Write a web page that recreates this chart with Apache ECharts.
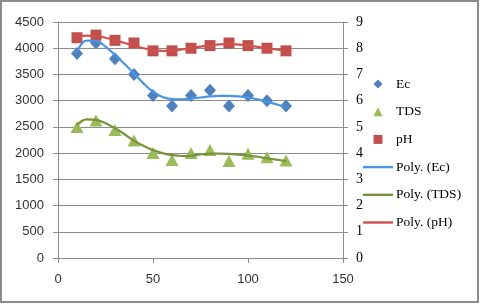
<!DOCTYPE html>
<html><head><meta charset="utf-8">
<script src="https://cdn.jsdelivr.net/npm/echarts@6/dist/echarts.min.js"></script>
<style>html,body{margin:0;padding:0;background:#fff}#c{width:480px;height:306px}</style>
</head><body><div id="c"></div>
<script>
const xVals = [10,20,30,40,50,60,70,80,90,100,110,120];
const ecVals = [3900,4100,3800,3500,3100,2900,3100,3200,2900,3100,3000,2900];
const tdsVals = [2500,2620,2440,2240,2000,1870,2000,2060,1850,1990,1920,1860];
const phVals = [8.4,8.5,8.3,8.2,7.9,7.9,8.0,8.1,8.2,8.1,8.0,7.9];
const trendX = [10,15,20,25,30,35,40,45,50,55,60,65,70,75,80,85,90,95,100,105,110,115,120];
const ecTrend = [3930,4145,4140,4030,3870,3700,3520,3330,3170,3070,3030,3025,3040,3060,3080,3090,3090,3080,3060,3025,2980,2930,2880];
const tdsTrend = [2530,2645,2635,2570,2476,2360,2234,2140,2057,2000,1962,1945,1950,1975,1990,1992,1985,1970,1955,1930,1900,1875,1848];
const phTrend = [8.43,8.48,8.46,8.40,8.31,8.20,8.10,8.00,7.93,7.90,7.91,7.95,8.00,8.06,8.11,8.15,8.16,8.14,8.10,8.05,8.00,7.95,7.90];
const leftTicks = [0,4500,500];
const rightTicks = [0,9,1];
const xTicks = [0,150,50];

const pair = (xs, ys) => xs.map((x,i)=>[x, ys[i]]);
const gridGray = '#8c8c8c';
const lineIcon = 'path://M0,0H30V2.4H0Z';
const diamondIcon = 'path://M5,0L10,5L5,10L0,5Z';
const triIcon = 'path://M5,0L10,10L0,10Z';
const rectIcon = 'path://M0,0H10V10H0Z';
const chart = echarts.init(document.getElementById('c'));
chart.setOption({
  animation:false,
  backgroundColor:'#fff',
  graphic:[{type:'rect',shape:{x:1,y:1,width:477,height:301},style:{fill:'none',stroke:'#8c8c8c',lineWidth:2},z:-1}],
  grid:{left:58,right:137,top:22,bottom:48},
  legend:{
    orient:'vertical', left:358, top:71, itemWidth:30, itemHeight:9, itemGap:11.7,
    symbolKeepAspect:true,
    textStyle:{fontFamily:'Liberation Serif',fontSize:13.5,color:'#000',lineHeight:16,padding:[0,0,0,-2]},
    data:[
      {name:'Ec',icon:diamondIcon},{name:'TDS',icon:triIcon},{name:'pH',icon:rectIcon},
      {name:'Poly. (Ec)',icon:lineIcon},{name:'Poly. (TDS)',icon:lineIcon},{name:'Poly. (pH)',icon:lineIcon}
    ]
  },
  xAxis:{type:'value',min:xTicks[0],max:xTicks[1],interval:xTicks[2],
    axisLine:{show:true,lineStyle:{color:gridGray}},
    axisTick:{show:true,length:5,lineStyle:{color:gridGray}},
    splitLine:{show:false},
    axisLabel:{fontFamily:'Liberation Sans',fontSize:13,color:'#333',margin:15}},
  yAxis:[
    {type:'value',min:leftTicks[0],max:leftTicks[1],interval:leftTicks[2],position:'left',
      axisLine:{show:true,lineStyle:{color:gridGray}},
      axisTick:{show:true,length:5,lineStyle:{color:gridGray}},
      splitLine:{show:true,lineStyle:{color:gridGray,width:1}},
      axisLabel:{fontFamily:'Liberation Sans',fontSize:13,color:'#333',margin:14,formatter:v=>String(v)}},
    {type:'value',min:rightTicks[0],max:rightTicks[1],interval:rightTicks[2],position:'right',
      axisLine:{show:true,lineStyle:{color:gridGray}},
      axisTick:{show:true,length:5,lineStyle:{color:gridGray}},
      splitLine:{show:false},
      axisLabel:{fontFamily:'Liberation Serif',fontSize:14,color:'#000',margin:13}}
  ],
  series:[
    {name:'Ec',type:'scatter',yAxisIndex:0,data:pair(xVals,ecVals),symbol:'diamond',symbolSize:[12,13],
      itemStyle:{color:'#4F81BD',opacity:1},z:2},
    {name:'TDS',type:'scatter',yAxisIndex:0,data:pair(xVals,tdsVals),symbol:'triangle',symbolSize:[13,12],
      itemStyle:{color:'#9BBB59',opacity:1},z:2},
    {name:'pH',type:'scatter',yAxisIndex:1,data:pair(xVals,phVals),symbol:'rect',symbolSize:11,
      itemStyle:{color:'#C0504D',opacity:1},z:2},
    {name:'Poly. (Ec)',type:'line',yAxisIndex:0,data:pair(trendX,ecTrend),smooth:0.4,showSymbol:false,
      lineStyle:{color:'#4A94E0',width:2.2},itemStyle:{color:'#4A94E0'},z:3},
    {name:'Poly. (TDS)',type:'line',yAxisIndex:0,data:pair(trendX,tdsTrend),smooth:0.4,showSymbol:false,
      lineStyle:{color:'#77933C',width:2.2},itemStyle:{color:'#77933C'},z:3},
    {name:'Poly. (pH)',type:'line',yAxisIndex:1,data:pair(trendX,phTrend),smooth:0.4,showSymbol:false,
      lineStyle:{color:'#D0504B',width:2.2},itemStyle:{color:'#D0504B'},z:3}
  ]
});
</script></body></html>
